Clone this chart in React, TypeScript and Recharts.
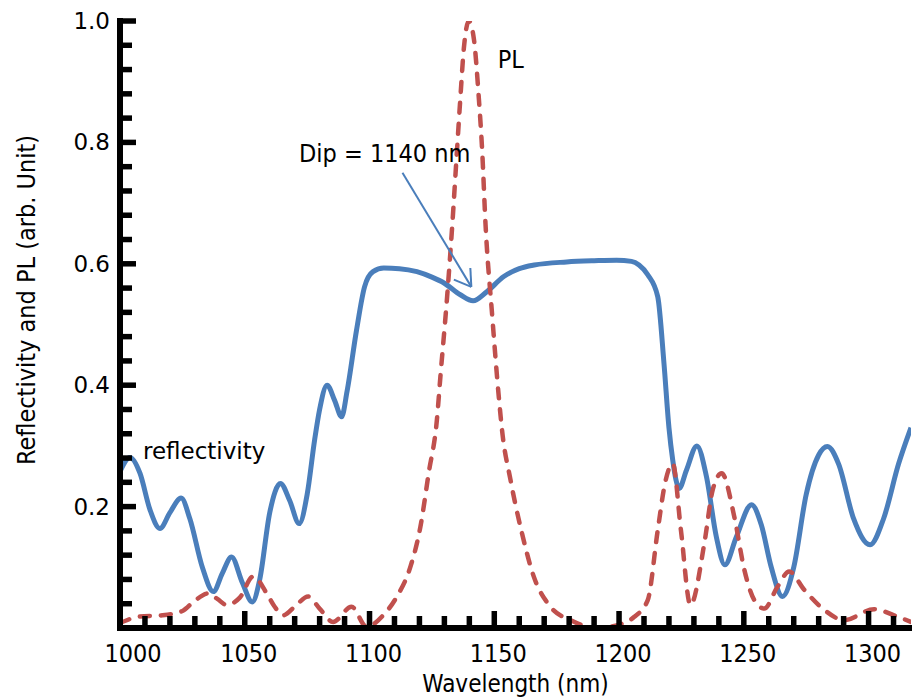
import React from 'react';
import { LineChart, Line, XAxis, YAxis, ReferenceLine, ReferenceDot } from 'recharts';

// Reflectivity (solid blue)
const reflWavelength = [
  1000, 1004, 1008, 1012, 1016, 1020, 1024.5, 1028, 1033, 1037.4, 1041, 1044.7, 1049, 1053, 1056, 1060,
  1064.3, 1068, 1071.8, 1075, 1078, 1080, 1083, 1086, 1088.8, 1091, 1094.8, 1098, 1101.4, 1105.7, 1112,
  1119, 1125, 1130, 1136.4, 1141.5, 1147, 1153.8, 1160, 1166, 1179, 1190, 1199, 1205, 1208, 1211.5,
  1215.5, 1218, 1220, 1221.5, 1224.1, 1227, 1231.2, 1235, 1239, 1242.4, 1247, 1253.1, 1257, 1261, 1265.5,
  1270, 1275, 1280, 1283.5, 1288, 1294, 1300.6, 1306, 1312, 1317,
];
const reflValue = [
  0.258, 0.281, 0.255, 0.195, 0.164, 0.19, 0.214, 0.18, 0.1, 0.06, 0.09, 0.117, 0.075, 0.043, 0.08, 0.19,
  0.238, 0.21, 0.172, 0.22, 0.31, 0.36, 0.4, 0.375, 0.348, 0.39, 0.491, 0.562, 0.587, 0.593, 0.592,
  0.587, 0.578, 0.568, 0.549, 0.539, 0.554, 0.579, 0.592, 0.598, 0.603, 0.605, 0.606, 0.604, 0.598, 0.582,
  0.546, 0.436, 0.33, 0.277, 0.23, 0.26, 0.3, 0.25, 0.15, 0.104, 0.15, 0.203, 0.17, 0.1, 0.052,
  0.1, 0.22, 0.285, 0.299, 0.27, 0.18, 0.137, 0.18, 0.27, 0.33,
];

// PL (dashed red)
const plWavelength = [
  1000, 1008, 1017, 1025, 1030, 1035.4, 1039, 1042.7, 1048, 1053.4, 1058.8, 1062, 1065.4, 1070, 1075.4,
  1080, 1085.4, 1092.8, 1098.8, 1105.7, 1111, 1116.4, 1120.4, 1123.7, 1127, 1128.4, 1131.1, 1133.1, 1135.1,
  1136.4, 1137.8, 1139.8, 1141.8, 1143.8, 1145.1, 1146.5, 1149.1, 1151.8, 1153.1, 1156.5, 1161.1, 1165.8,
  1172.5, 1180.5, 1191, 1201.8, 1206, 1211.5, 1215.5, 1218.5, 1221.5, 1224.8, 1228.6, 1234.2, 1237.5,
  1241.1, 1246.2, 1250.2, 1254.2, 1258.2, 1263.5, 1268.2, 1274.2, 1282.2, 1290.2, 1302.2, 1310.2, 1317,
];
const plValue = [
  0.008, 0.019, 0.021, 0.028, 0.045, 0.057, 0.048, 0.038, 0.05, 0.085, 0.057, 0.035, 0.021, 0.035, 0.052,
  0.032, 0.01, 0.035, 0.002, 0.022, 0.052, 0.101, 0.167, 0.255, 0.343, 0.414, 0.546, 0.66, 0.79,
  0.873, 0.955, 1.0, 0.971, 0.873, 0.79, 0.664, 0.518, 0.381, 0.326, 0.244, 0.156, 0.085,
  0.035, 0.013, 0.0, 0.008, 0.018, 0.046, 0.161, 0.24, 0.271, 0.161, 0.038, 0.14, 0.227,
  0.255, 0.183, 0.096, 0.046, 0.032, 0.068, 0.093, 0.063, 0.03, 0.013, 0.031, 0.021, 0.01,
];

const xTicks = [
  1000, 1010, 1020, 1030, 1040, 1050, 1060, 1070, 1080, 1090, 1100, 1110, 1120, 1130, 1140, 1150, 1160,
  1170, 1180, 1190, 1200, 1210, 1220, 1230, 1240, 1250, 1260, 1270, 1280, 1290, 1300, 1310,
];
const xLabels = [1000, 1050, 1100, 1150, 1200, 1250, 1300];
const yTicks = [
  0, 0.04, 0.08, 0.12, 0.16, 0.2, 0.24, 0.28, 0.32, 0.36, 0.4, 0.44, 0.48, 0.52, 0.56, 0.6, 0.64, 0.68,
  0.72, 0.76, 0.8, 0.84, 0.88, 0.92, 0.96, 1.0,
];
const yLabels = [0.2, 0.4, 0.6, 0.8, 1.0];
const xDomain = [1000, 1317];
const yDomain = [0, 1];

const reflData = reflWavelength.map((x, i) => ({ x, y: reflValue[i] }));
const plData = plWavelength.map((x, i) => ({ x, y: plValue[i] }));

const BLUE = '#4a7ebb';
const RED = '#c0504d';
const COND = '"DejaVu Sans Condensed", "DejaVu Sans", sans-serif';
const WIDE = '"DejaVu Sans", Verdana, sans-serif';

const BottomTick = (props: any) => {
  const { x, y, payload } = props;
  const v = payload.value;
  const major = xLabels.includes(v);
  return (
    <g>
      <line x1={x} x2={x} y1={y} y2={y - (major ? 17 : 12)} stroke="#000" strokeWidth={5.5} />
      {major && (
        <text x={x + (v === 1000 ? 13 : 4)} y={y + 34} textAnchor="middle" fontFamily={COND} fontSize={25} fill="#000">
          {v}
        </text>
      )}
    </g>
  );
};

const TopTick = (props: any) => {
  const { x, y, payload } = props;
  const major = xLabels.includes(payload.value);
  return <line x1={x} x2={x} y1={y} y2={y + (major ? 6 : 4.5)} stroke="#000" strokeWidth={major ? 4.5 : 3.5} />;
};

const LeftTick = (props: any) => {
  const { x, y, payload } = props;
  const v = payload.value;
  const major = yLabels.includes(v);
  return (
    <g>
      {v !== 0 && <line x1={x} x2={x + (major ? 16 : 12)} y1={y} y2={y} stroke="#000" strokeWidth={5.5} />}
      {major && (
        <text x={x - 10} y={y} dy={8} textAnchor="end" fontFamily={WIDE} fontSize={23} fill="#000">
          {v.toFixed(1)}
        </text>
      )}
    </g>
  );
};

const RightTick = (props: any) => {
  const { x, y, payload } = props;
  const v = payload.value;
  if (v === 0 || v === 1) return <g />;
  const major = yLabels.includes(v);
  return major ? (
    <rect x={x - 5} y={y - 2.5} width={5} height={5} fill="#000" />
  ) : (
    <line x1={x} x2={x - 4} y1={y} y2={y} stroke="#555" strokeWidth={2} />
  );
};

const textShape = (label: string, family: string, size: number) => (p: any) => (
  <text x={p.cx} y={p.cy} fontFamily={family} fontSize={size} fill="#000">
    {label}
  </text>
);

export default function App() {
  return (
    <div style={{ position: 'absolute', left: 0, top: 0, width: 912, height: 698, background: '#fff' }}>
      <LineChart width={912} height={698} margin={{ top: 21, right: 1, bottom: 0, left: 0 }}>
        <XAxis
          xAxisId="bottom"
          dataKey="x"
          type="number"
          domain={xDomain}
          allowDataOverflow
          ticks={xTicks}
          interval={0}
          tickSize={0}
          tickMargin={0}
          tickLine={false}
          height={70}
          axisLine={{ stroke: '#000', strokeWidth: 6, strokeLinecap: 'square' }}
          tick={<BottomTick />}
          label={{ value: 'Wavelength (nm)', position: 'insideBottom', offset: 6, fontFamily: COND, fontSize: 24, fill: '#000' }}
        />
        <XAxis
          xAxisId="top"
          orientation="top"
          dataKey="x"
          type="number"
          domain={xDomain}
          allowDataOverflow
          ticks={xTicks}
          interval={0}
          tickSize={0}
          tickMargin={0}
          tickLine={false}
          height={0}
          axisLine={{ stroke: '#000', strokeWidth: 5, strokeLinecap: 'square' }}
          tick={<TopTick />}
        />
        <YAxis
          yAxisId="left"
          type="number"
          domain={yDomain}
          allowDataOverflow
          ticks={yTicks}
          interval={0}
          tickSize={0}
          tickMargin={0}
          tickLine={false}
          width={120}
          axisLine={{ stroke: '#000', strokeWidth: 6, strokeLinecap: 'square' }}
          tick={<LeftTick />}
        />
        <YAxis
          yAxisId="right"
          orientation="right"
          type="number"
          domain={yDomain}
          allowDataOverflow
          ticks={yTicks}
          interval={0}
          tickSize={0}
          tickMargin={0}
          tickLine={false}
          width={0}
          axisLine={false}
          tick={<RightTick />}
        />
        <Line
          xAxisId="bottom"
          yAxisId="left"
          data={reflData}
          dataKey="y"
          type="monotone"
          stroke={BLUE}
          strokeWidth={5}
          dot={false}
          activeDot={false}
          isAnimationActive={false}
        />
        <Line
          xAxisId="bottom"
          yAxisId="left"
          data={plData}
          dataKey="y"
          type="monotone"
          stroke={RED}
          strokeWidth={4.5}
          strokeDasharray="10 11"
          strokeLinecap="round"
          dot={false}
          activeDot={false}
          isAnimationActive={false}
        />
        <ReferenceLine xAxisId="bottom" yAxisId="left" ifOverflow="visible" stroke={BLUE} strokeWidth={2}
          segment={[{ x: 1113.2, y: 0.75 }, { x: 1140.8, y: 0.562 }]} />
        <ReferenceLine xAxisId="bottom" yAxisId="left" ifOverflow="visible" stroke={BLUE} strokeWidth={2}
          segment={[{ x: 1133.8, y: 0.574 }, { x: 1140.8, y: 0.562 }]} />
        <ReferenceLine xAxisId="bottom" yAxisId="left" ifOverflow="visible" stroke={BLUE} strokeWidth={2}
          segment={[{ x: 1140.4, y: 0.593 }, { x: 1140.8, y: 0.562 }]} />
        <ReferenceDot xAxisId="bottom" yAxisId="left" x={1009.2} y={0.278} r={0} ifOverflow="visible"
          shape={textShape('reflectivity', WIDE, 23)} />
        <ReferenceDot xAxisId="bottom" yAxisId="left" x={1071.7} y={0.768} r={0} ifOverflow="visible"
          shape={textShape('Dip = 1140 nm', COND, 25)} />
        <ReferenceDot xAxisId="bottom" yAxisId="left" x={1151.4} y={0.923} r={0} ifOverflow="visible"
          shape={textShape('PL', COND, 25)} />
      </LineChart>
      <div
        style={{
          position: 'absolute',
          left: 26,
          top: 300,
          transform: 'translate(-50%, -50%) rotate(-90deg)',
          whiteSpace: 'nowrap',
          fontFamily: COND,
          fontSize: 25,
          color: '#000',
          lineHeight: 1,
        }}
      >
        Reflectivity and PL (arb. Unit)
      </div>
    </div>
  );
}
